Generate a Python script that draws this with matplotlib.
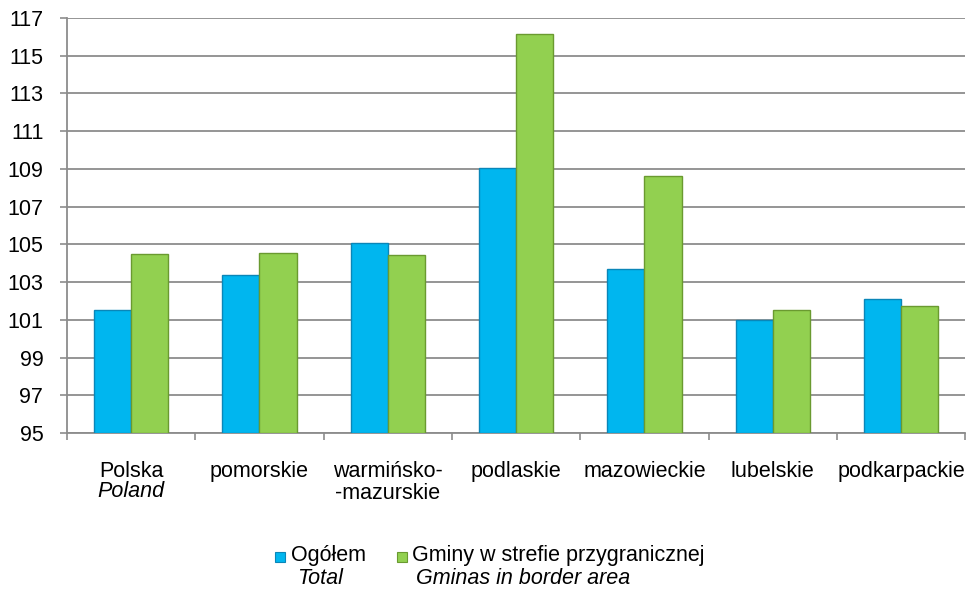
import matplotlib.pyplot as plt
import numpy as np
from matplotlib.patches import Rectangle

plt.rcParams["font.family"] = ["Liberation Sans", "DejaVu Sans"]

categories = ["Polska", "pomorskie", "warmińsko-\n-mazurskie", "podlaskie",
              "mazowieckie", "lubelskie", "podkarpackie"]
total = [101.5, 103.4, 105.1, 109.05, 103.7, 101.0, 102.1]
border = [104.5, 104.55, 104.45, 116.15, 108.6, 101.5, 101.75]
yticks = list(range(95, 118, 2))

blue = "#00B6EF"
green = "#92D050"
grid_c = "#8C8C8C"
fs = 15.5

fig = plt.figure(figsize=(9.68, 5.91), dpi=100)
ax = fig.add_axes([0.0692, 0.2673, 0.928, 0.7022])

x = np.arange(len(categories))
w = 0.29
ax.bar(x - w / 2, np.array(total) - 95, w, bottom=95, color=blue,
       edgecolor="#0A86B8", linewidth=1.0, zorder=3)
ax.bar(x + w / 2, np.array(border) - 95, w, bottom=95, color=green,
       edgecolor="#6A9A30", linewidth=1.0, zorder=3)

ax.set_ylim(95, 117)
ax.set_xlim(-0.5, len(categories) - 0.5)
ax.set_yticks(yticks)
ax.tick_params(axis="y", labelsize=fs, length=5, width=1.2, color=grid_c, pad=12)
ax.yaxis.grid(True, color=grid_c, linewidth=1.3, zorder=0)
ax.set_axisbelow(True)

ax.set_xticks(np.arange(-0.5, len(categories), 1.0))
ax.set_xticklabels([])
ax.tick_params(axis="x", length=5, width=1.2, color=grid_c)
ax.set_xticks(x, minor=True)
ax.set_xticklabels(categories, minor=True, fontsize=fs, linespacing=1.1)
ax.tick_params(axis="x", which="minor", length=0, pad=20)

ax.text(0, -0.14, "Poland", transform=ax.get_xaxis_transform(),
        ha="center", va="center", fontsize=fs, style="italic")

for side in ["top", "right"]:
    ax.spines[side].set_visible(False)
ax.spines["left"].set_color(grid_c)
ax.spines["left"].set_linewidth(1.3)
ax.spines["bottom"].set_color(grid_c)
ax.spines["bottom"].set_linewidth(1.3)

# legend
W, H = 968, 591
def fx(px):
    return px / W
def fy(py):
    return 1 - py / H

for x0, col, ec in [(275, blue, "#0A86B8"), (397, green, "#6A9A30")]:
    fig.patches.append(Rectangle((fx(x0), fy(562)), fx(10), 10 / H, facecolor=col,
                                 edgecolor=ec, linewidth=0.8, transform=fig.transFigure))
fig.text(fx(291), fy(556), "Ogółem", fontsize=fs, va="center", ha="left")
fig.text(fx(320), fy(579), "Total", fontsize=fs, va="center", ha="center", style="italic")
fig.text(fx(412), fy(556), "Gminy w strefie przygranicznej", fontsize=fs, va="center", ha="left")
fig.text(fx(416), fy(579), "Gminas in border area", fontsize=fs, va="center", ha="left",
         style="italic")

fig.savefig("out.png", dpi=100)
